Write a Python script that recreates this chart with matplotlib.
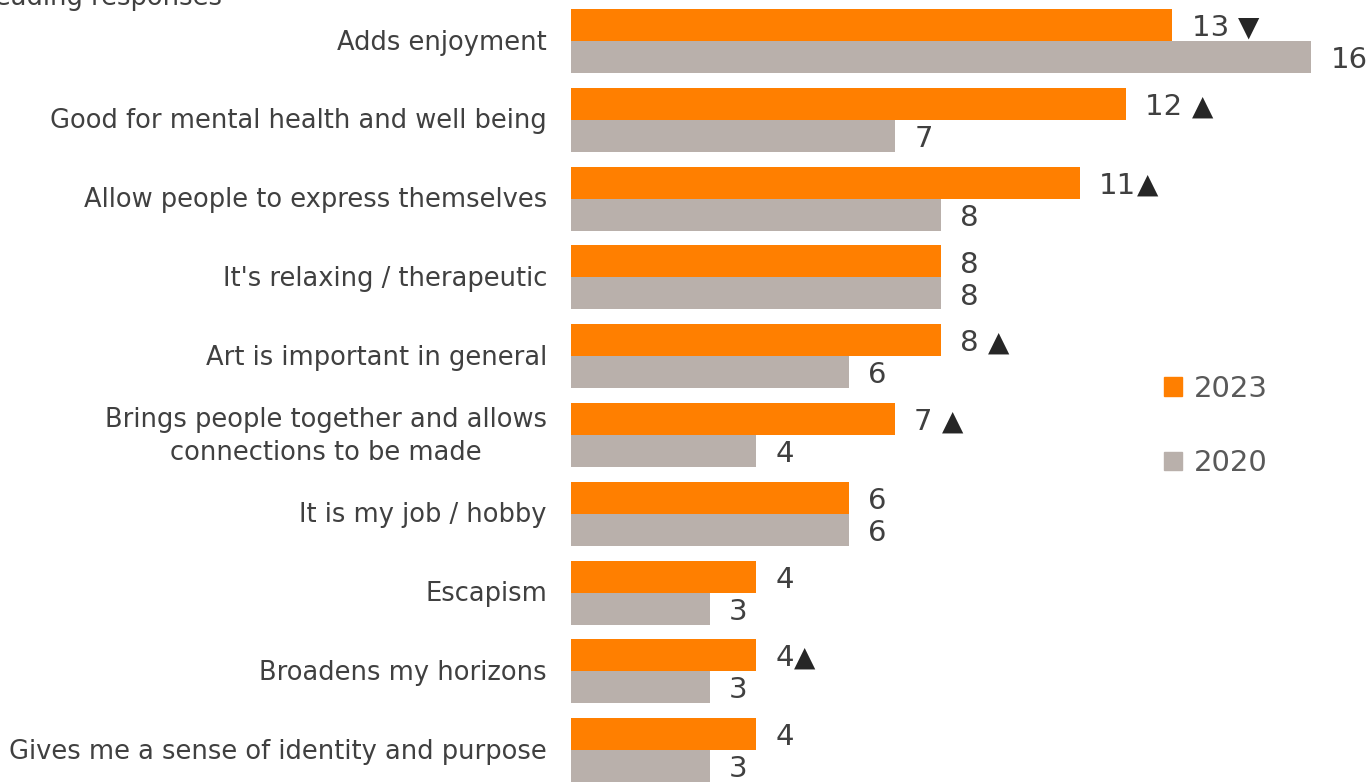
import matplotlib.pyplot as plt
import numpy as np
from matplotlib.patches import Patch

plt.rcParams['font.family'] = ['DejaVu Sans']

# leading responses, %
categories = [
    "Adds enjoyment",
    "Good for mental health and well being",
    "Allow people to express themselves",
    "It's relaxing / therapeutic",
    "Art is important in general",
    "Brings people together and allows\nconnections to be made",
    "It is my job / hobby",
    "Escapism",
    "Broadens my horizons",
    "Gives me a sense of identity and purpose",
]
vals_2023 = [13, 12, 11, 8, 8, 7, 6, 4, 4, 4]
vals_2020 = [16, 7, 8, 8, 6, 4, 6, 3, 3, 3]
# significance arrows next to the 2023 values
arrows_2023 = ["▼", "▲", "▲", "", "▲", "▲", "", "", "▲", ""]
arrow_gap = [" ", " ", "", "", " ", " ", "", "", "", ""]

c23 = '#FF7F00'
c20 = '#B9B0AB'
txt = '#404040'

fig = plt.figure(figsize=(13.69, 7.84), dpi=100)
ax = fig.add_axes([571 / 1369, 0, 798 / 1369, 1])

y = np.arange(len(categories))
h = 0.406
ax.barh(y - h / 2, vals_2023, height=h, color=c23)
ax.barh(y + h / 2, vals_2020, height=h, color=c20)
ax.set_xlim(0, 798 / 46.25)
ax.set_ylim(9.43, -0.52)
ax.axis('off')

off = 0.42
fig.canvas.draw()
for i in y:
    t = ax.text(vals_2023[i] + off, i - h / 2 + 0.04, str(vals_2023[i]) + arrow_gap[i],
                ha='left', va='center', fontsize=21, color=txt)
    if arrows_2023[i]:
        bb = t.get_window_extent(renderer=fig.canvas.get_renderer())
        x_end = ax.transData.inverted().transform((bb.x1, 0))[0]
        ax.text(x_end, i - h / 2 + 0.03, arrows_2023[i], ha='left', va='center',
                fontsize=20, color='#262626')
    ax.text(vals_2020[i] + off, i + h / 2 + 0.04, str(vals_2020[i]),
            ha='left', va='center', fontsize=21, color=txt)
    ax.text(-0.52, i + 0.02, categories[i], ha='right', va='center', fontsize=18.5,
            color=txt, multialignment='center', linespacing=1.35)

fig.text(222 / 1369, 1 - 5 / 784, "Leading responses", ha='right', va='baseline',
         fontsize=18.5, color=txt)

handles = [Patch(color=c23), Patch(color=c20)]
fig.legend(handles, ['2023', '2020'], loc='center left',
           bbox_to_anchor=(1138 / 1369, 1 - 426 / 784), frameon=False,
           fontsize=21, labelcolor='#595959', handlelength=0.6, handleheight=0.6,
           handletextpad=0.4, labelspacing=1.6)

fig.savefig('out.png', dpi=100)
